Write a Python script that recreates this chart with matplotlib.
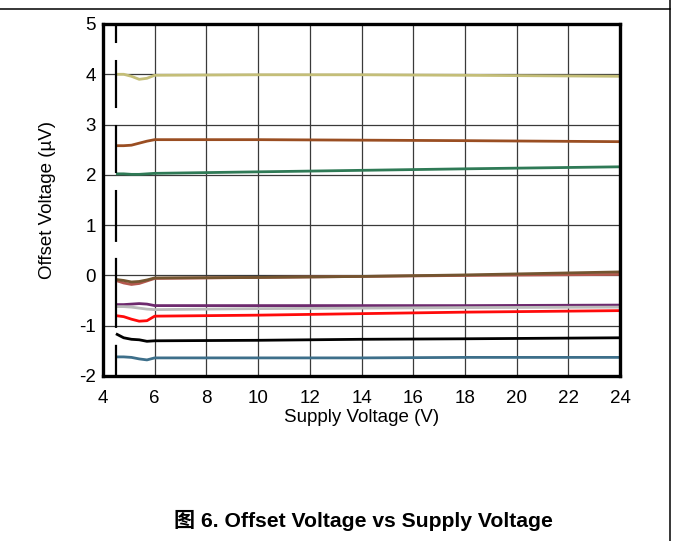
import numpy as np
import matplotlib
matplotlib.use("Agg")
import matplotlib.pyplot as plt
from matplotlib.lines import Line2D

plt.rcParams['font.family'] = ['Liberation Sans', 'DejaVu Sans']
plt.rcParams['lines.scale_dashes'] = False

# supply voltage (V)
vs = [4.5, 4.8, 5.1, 5.4, 5.7, 6.0, 10, 14, 18, 24]

# offset voltage (uV) per unit
vos_yellow = [4.00, 4.00, 3.96, 3.90, 3.92, 3.98, 3.99, 3.99, 3.98, 3.96]
vos_brown = [2.58, 2.58, 2.59, 2.63, 2.67, 2.70, 2.70, 2.69, 2.68, 2.66]
vos_green = [2.02, 2.02, 2.01, 2.01, 2.02, 2.03, 2.06, 2.09, 2.12, 2.16]
vos_rose = [-0.10, -0.15, -0.18, -0.16, -0.11, -0.06, -0.04, -0.02, 0.00, 0.02]
vos_olive = [-0.08, -0.10, -0.13, -0.12, -0.09, -0.05, -0.04, -0.02, 0.01, 0.07]
vos_purple = [-0.58, -0.58, -0.57, -0.56, -0.57, -0.60, -0.60, -0.60, -0.60, -0.59]
vos_gray = [-0.62, -0.62, -0.63, -0.65, -0.67, -0.68, -0.66, -0.65, -0.64, -0.63]
vos_red = [-0.80, -0.82, -0.87, -0.91, -0.90, -0.81, -0.79, -0.76, -0.73, -0.70]
vos_black = [-1.16, -1.24, -1.27, -1.28, -1.31, -1.30, -1.29, -1.27, -1.26, -1.24]
vos_teal = [-1.62, -1.62, -1.63, -1.66, -1.68, -1.64, -1.64, -1.64, -1.63, -1.63]

series = [
    (vos_yellow, '#c4be78'),
    (vos_brown, '#9a4e22'),
    (vos_green, '#2f7a56'),
    (vos_rose, '#b4584e'),
    (vos_olive, '#735530'),
    (vos_purple, '#6e2a6e'),
    (vos_gray, '#bbbbbb'),
    (vos_red, '#ff0a0a'),
    (vos_black, '#000000'),
    (vos_teal, '#3d6f8a'),
]

xticks = [4, 6, 8, 10, 12, 14, 16, 18, 20, 22, 24]
yticks = [-2, -1, 0, 1, 2, 3, 4, 5]
min_vs = 4.5

fig = plt.figure(figsize=(6.73, 5.41), dpi=100)
ax = fig.add_axes([103/673, 1 - 376/541, 517/673, 352/541])

for vals, col in series:
    ax.plot(vs, vals, color=col, lw=2.0, solid_capstyle='butt')

# minimum supply marker
ax.plot([min_vs, min_vs], [yticks[-1], yticks[0]], color='k', lw=1.6,
        dashes=(13.7, 12.2, 34.6, 12.2, 34.6, 12.2, 37.4, 11.5, 50.4, 12.2, 22.3, 20))

ax.set_xlim(4, 24)
ax.set_ylim(-2, 5)
ax.set_xticks(xticks)
ax.set_yticks(yticks)
ax.set_xticklabels([str(t) for t in xticks])
ax.set_yticklabels([str(t) for t in yticks])
ax.tick_params(length=0, labelsize=13.5)
ax.tick_params(axis='x', pad=10)
ax.tick_params(axis='y', pad=5)
ax.grid(True, color='#3a3a3a', lw=0.9)
ax.set_axisbelow(True)
for s in ax.spines.values():
    s.set_linewidth(2.4)
    s.set_color('k')

ax.set_xlabel('Supply Voltage (V)', fontsize=13.5)
ax.set_ylabel('Offset Voltage (µV)', fontsize=13.5)
ax.xaxis.set_label_coords(0.5, -0.095)
ax.yaxis.set_label_coords(-0.108, 0.5)
ax.yaxis.label.set_va('center')

# page frame lines
fig.add_artist(Line2D([0, 670/673], [1 - 9/541, 1 - 9/541], color='k', lw=1.1))
fig.add_artist(Line2D([670/673, 670/673], [0, 1], color='k', lw=1.1))

fig.text(363/673, 1 - 520/541, '图 6. Offset Voltage vs Supply Voltage',
         ha='center', va='center', fontsize=15.2, weight='bold',
         family=['Liberation Sans', 'Noto Sans CJK SC'])

fig.savefig('out.png', dpi=100)
